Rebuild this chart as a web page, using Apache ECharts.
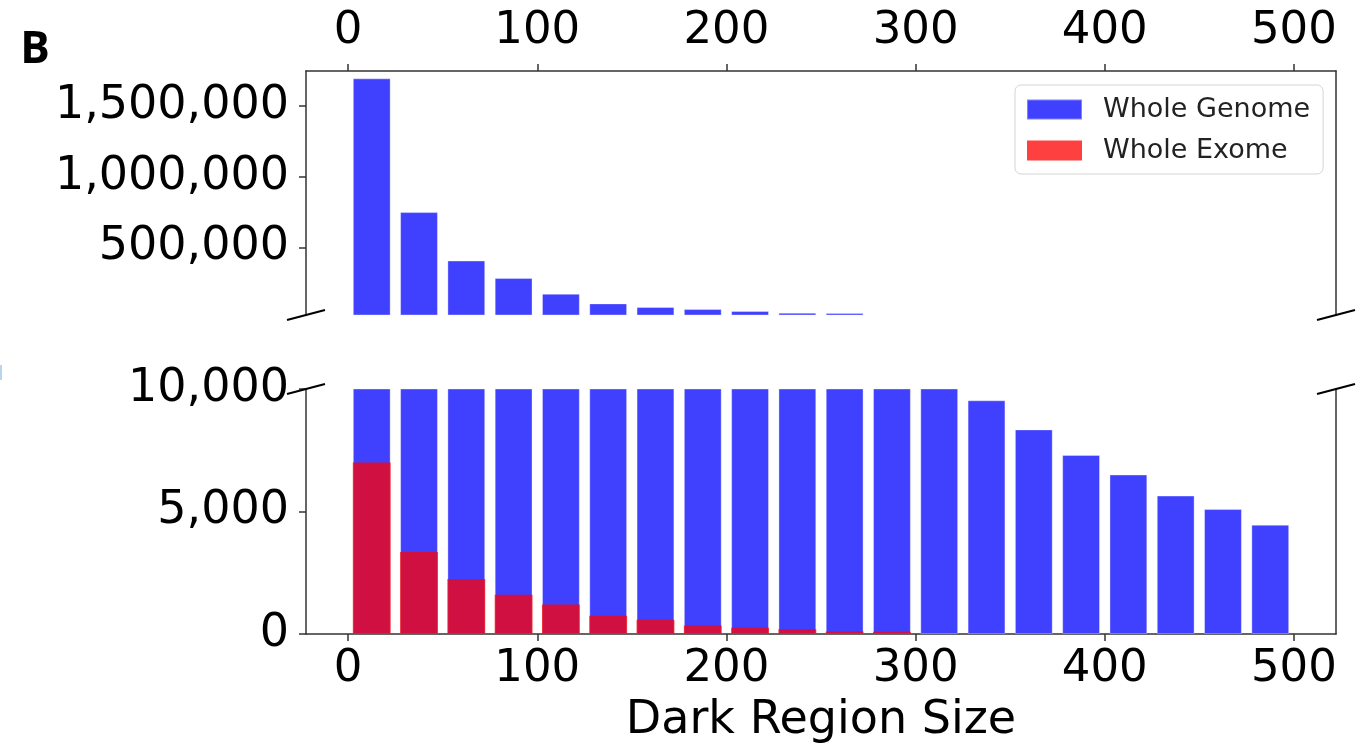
<!DOCTYPE html>
<html>
<head>
<meta charset="utf-8">
<script src="https://cdn.jsdelivr.net/npm/echarts@6/dist/echarts.min.js"></script>
<style>
  html, body { margin: 0; padding: 0; background: #fff; }
  #container { width: 1368px; height: 751px; }
</style>
</head>
<body>
<div id="container"></div>
<script>
// bin centres (bin width 25, bars drawn 20 wide)
var binCenters = [12.5, 37.5, 62.5, 87.5, 112.5, 137.5, 162.5, 187.5, 212.5, 237.5,
  262.5, 287.5, 312.5, 337.5, 362.5, 387.5, 412.5, 437.5, 462.5, 487.5];
var genomeCounts = [1695000, 750000, 408000, 284000, 173000, 105000, 79000, 65000, 51000, 39000,
  38000, 18000, 12000, 9540, 8350, 7310, 6510, 5650, 5100, 4460];
var exomeCounts = [7000, 3350, 2250, 1600, 1200, 740, 580, 350, 260, 190,
  100, 90, 0, 0, 0, 0, 0, 0, 0, 0];
var xTicks = [0, 100, 200, 300, 400, 500];
var topYTicks = [500000, 1000000, 1500000];

var FONT = "DejaVu Sans";
var X_MIN = -22.25, X_MAX = 522.25;
var TOP_MIN = 23000, TOP_MAX = 1747000;
var BOT_MIN = 0, BOT_MAX = 10000;

var genomeColor = "rgba(0,0,255,0.75)";
var exomeColor = "rgba(255,0,0,0.75)";

function pairs(values) {
  return binCenters.map(function (x, i) { return [x, values[i]]; });
}
function commas(v) {
  return Number(v).toLocaleString("en-US");
}

var dom = document.getElementById("container");
var myChart = echarts.init(dom, null, { renderer: "canvas" });

var spine = { show: true, onZero: false, lineStyle: { color: "#333", width: 1.5 } };
var tick = { show: true, length: 7, lineStyle: { color: "#333", width: 1.5 } };
var xLabelFont = { color: "#000", fontSize: 45, fontFamily: FONT };
var yLabelFont = { color: "#000", fontSize: 46, fontFamily: FONT };

var option = {
  animation: false,
  backgroundColor: "#fff",
  textStyle: { fontFamily: FONT },
  grid: [
    { left: 306, right: 32, top: 71, height: 244, containLabel: false, outerBoundsMode: "none" },
    { left: 306, right: 32, top: 389, height: 245, containLabel: false, outerBoundsMode: "none" }
  ],
  legend: {
    data: ["Whole Genome", "Whole Exome"],
    orient: "vertical",
    left: 1015,
    top: 85,
    itemWidth: 55,
    itemHeight: 20,
    itemGap: 14,
    icon: "rect",
    padding: [11, 13, 10, 11],
    backgroundColor: "rgba(255,255,255,0.8)",
    borderColor: "#d4d4d4",
    borderWidth: 1,
    borderRadius: 6,
    textStyle: { fontSize: 27, color: "#222", fontFamily: FONT, padding: [0, 0, 0, 16] }
  },
  xAxis: [
    {
      gridIndex: 0, type: "value", position: "top",
      min: X_MIN, max: X_MAX,
      splitLine: { show: false },
      axisLine: spine,
      axisTick: Object.assign({ customValues: xTicks }, tick),
      axisLabel: Object.assign({ customValues: xTicks, margin: 17 }, xLabelFont)
    },
    {
      gridIndex: 1, type: "value", position: "bottom",
      min: X_MIN, max: X_MAX,
      splitLine: { show: false },
      axisLine: spine,
      axisTick: Object.assign({ customValues: xTicks }, tick),
      axisLabel: Object.assign({ customValues: xTicks, margin: 13 }, xLabelFont),
      name: "Dark Region Size",
      nameLocation: "middle",
      nameGap: 64,
      nameTextStyle: { color: "#000", fontSize: 46, fontFamily: FONT }
    }
  ],
  yAxis: [
    {
      gridIndex: 0, type: "value", position: "left",
      min: TOP_MIN, max: TOP_MAX,
      splitLine: { show: false },
      axisLine: spine,
      axisTick: Object.assign({ customValues: topYTicks }, tick),
      axisLabel: Object.assign({ customValues: topYTicks, margin: 17, formatter: commas }, yLabelFont)
    },
    {
      gridIndex: 1, type: "value", position: "left",
      min: BOT_MIN, max: BOT_MAX, interval: 5000,
      splitLine: { show: false },
      axisLine: spine,
      axisTick: tick,
      axisLabel: Object.assign({ margin: 17, formatter: commas }, yLabelFont)
    },
    {
      gridIndex: 0, type: "value", position: "right",
      min: TOP_MIN, max: TOP_MAX,
      splitLine: { show: false }, axisLine: spine,
      axisTick: { show: false }, axisLabel: { show: false }
    },
    {
      gridIndex: 1, type: "value", position: "right",
      min: BOT_MIN, max: BOT_MAX,
      splitLine: { show: false }, axisLine: spine,
      axisTick: { show: false }, axisLabel: { show: false }
    }
  ],
  series: [
    {
      name: "Whole Genome", type: "bar",
      xAxisIndex: 0, yAxisIndex: 0,
      data: pairs(genomeCounts),
      barWidth: "80%", clip: true,
      itemStyle: { color: genomeColor, borderColor: "rgba(255,255,255,0.35)", borderWidth: 1 }
    },
    {
      name: "Whole Genome", type: "bar",
      xAxisIndex: 1, yAxisIndex: 1,
      data: pairs(genomeCounts),
      barWidth: "80%", barGap: "-100%", clip: true,
      itemStyle: { color: genomeColor, borderColor: "rgba(255,255,255,0.35)", borderWidth: 1 }
    },
    {
      name: "Whole Exome", type: "bar",
      xAxisIndex: 1, yAxisIndex: 1,
      data: pairs(exomeCounts),
      barWidth: "80%", barGap: "-100%", clip: true,
      itemStyle: { color: exomeColor }
    }
  ]
};

myChart.setOption(option);

// diagonal "broken axis" marks, placed from the axes themselves
function breakMark(gridIndex, xVal, yVal) {
  var p = myChart.convertToPixel({ gridIndex: gridIndex }, [xVal, yVal]);
  return {
    type: "line", z: 100,
    shape: { x1: p[0] - 19, y1: p[1] + 5, x2: p[0] + 19, y2: p[1] - 5 },
    style: { stroke: "#000", lineWidth: 2 }
  };
}

myChart.setOption({
  graphic: [
    breakMark(0, X_MIN, TOP_MIN),
    breakMark(0, X_MAX, TOP_MIN),
    breakMark(1, X_MIN, BOT_MAX),
    breakMark(1, X_MAX, BOT_MAX),
    {
      type: "text", x: 35, y: 50,
      style: { text: "B", font: 'bold 44px "Open Sans"', fill: "#000", textAlign: "center", textVerticalAlign: "middle" }
    },
    { type: "rect", shape: { x: 0, y: 365, width: 2, height: 15 }, style: { fill: "#b8d4ee" } }
  ]
});

window.addEventListener("resize", myChart.resize);
</script>
</body>
</html>
